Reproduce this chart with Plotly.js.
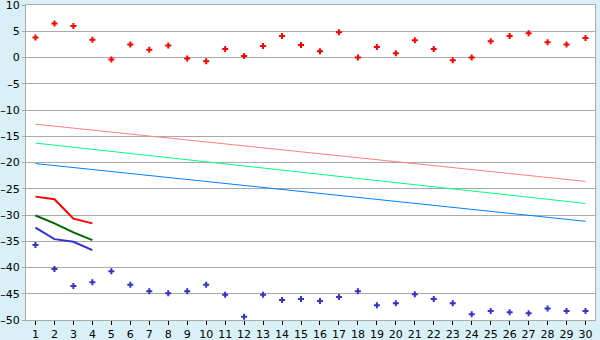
<!DOCTYPE html>
<html>
<head>
<meta charset="utf-8">
<script src="https://cdn.plot.ly/plotly-3.0.1.min.js"></script>
<style>html,body{margin:0;padding:0;background:#d9f0f7;}#chart{width:600px;height:340px;}</style>
</head>
<body>
<div id="chart"></div>
<script>
var days = [1,2,3,4,5,6,7,8,9,10,11,12,13,14,15,16,17,18,19,20,21,22,23,24,25,26,27,28,29,30];
var redPoints = [3.8,6.5,6.0,3.4,-0.4,2.5,1.5,2.3,-0.2,-0.7,1.6,0.3,2.2,4.1,2.4,1.2,4.8,0.0,2.0,0.8,3.3,1.6,-0.5,0.0,3.1,4.1,4.6,2.9,2.5,3.7];
var bluePoints = [-35.7,-40.3,-43.5,-42.8,-40.7,-43.3,-44.5,-44.9,-44.5,-43.3,-45.2,-49.4,-45.2,-46.2,-46.0,-46.4,-45.6,-44.5,-47.2,-46.8,-45.1,-46.0,-46.8,-48.9,-48.3,-48.5,-48.7,-47.8,-48.3,-48.3];
var shortDays = [1,2,3,4];
var redShort = [-26.5,-27.0,-30.7,-31.6];
var greenShort = [-30.1,-31.6,-33.3,-34.8];
var blueShort = [-32.4,-34.6,-35.1,-36.7];
var trendDays = [1,30];
var redTrend = [-12.7,-23.6];
var greenTrend = [-16.3,-27.8];
var blueTrend = [-20.2,-31.2];
var yTicks = [10,5,0,-5,-10,-15,-20,-25,-30,-35,-40,-45,-50];
var yTickLabels = ['10','5','0','\u20135','\u201310','\u201315','\u201320','\u201325','\u201330','\u201335','\u201340','\u201345','\u201350'];

var traces = [
  {x: trendDays, y: redTrend, mode:'lines', line:{color:'#ff8080', width:1}},
  {x: trendDays, y: greenTrend, mode:'lines', line:{color:'#00ff80', width:1}},
  {x: trendDays, y: blueTrend, mode:'lines', line:{color:'#0080ff', width:1}},
  {x: shortDays, y: redShort, mode:'lines', line:{color:'#ff0000', width:2}},
  {x: shortDays, y: greenShort, mode:'lines', line:{color:'#006600', width:2}},
  {x: shortDays, y: blueShort, mode:'lines', line:{color:'#3333cc', width:2}},
  {x: days, y: redPoints, mode:'markers', marker:{symbol:'cross', size:5, color:'#ff0000'}},
  {x: days, y: bluePoints, mode:'markers', marker:{symbol:'cross', size:5, color:'#3333cc'}}
];

var layout = {
  width:600, height:340,
  margin:{l:26, r:5, t:5, b:20, pad:0},
  paper_bgcolor:'#d9f0f7',
  plot_bgcolor:'#ffffff',
  showlegend:false,
  font:{family:'DejaVu Sans, Verdana, sans-serif', size:11, color:'#000000'},
  xaxis:{
    range:[0.5,30.5], tickmode:'array', tickvals:days, ticktext:days.map(String),
    showgrid:false, zeroline:false,
    showline:true, mirror:true, linecolor:'#aaaaaa', linewidth:1,
    ticks:'outside', ticklen:4, tickcolor:'#000000', tickwidth:1,
    tickfont:{size:11}, ticklabeloverflow:'allow'
  },
  yaxis:{
    range:[-50,10], tickmode:'array', tickvals:yTicks, ticktext:yTickLabels,
    showgrid:true, gridcolor:'#aaaaaa', gridwidth:1, zeroline:false,
    showline:true, mirror:true, linecolor:'#aaaaaa', linewidth:1,
    ticks:'outside', ticklen:3, tickcolor:'#aaaaaa',
    tickfont:{size:11}, ticklabeloverflow:'allow'
  }
};

Plotly.newPlot('chart', traces, layout, {displayModeBar:false, staticPlot:true});
</script>
</body>
</html>
